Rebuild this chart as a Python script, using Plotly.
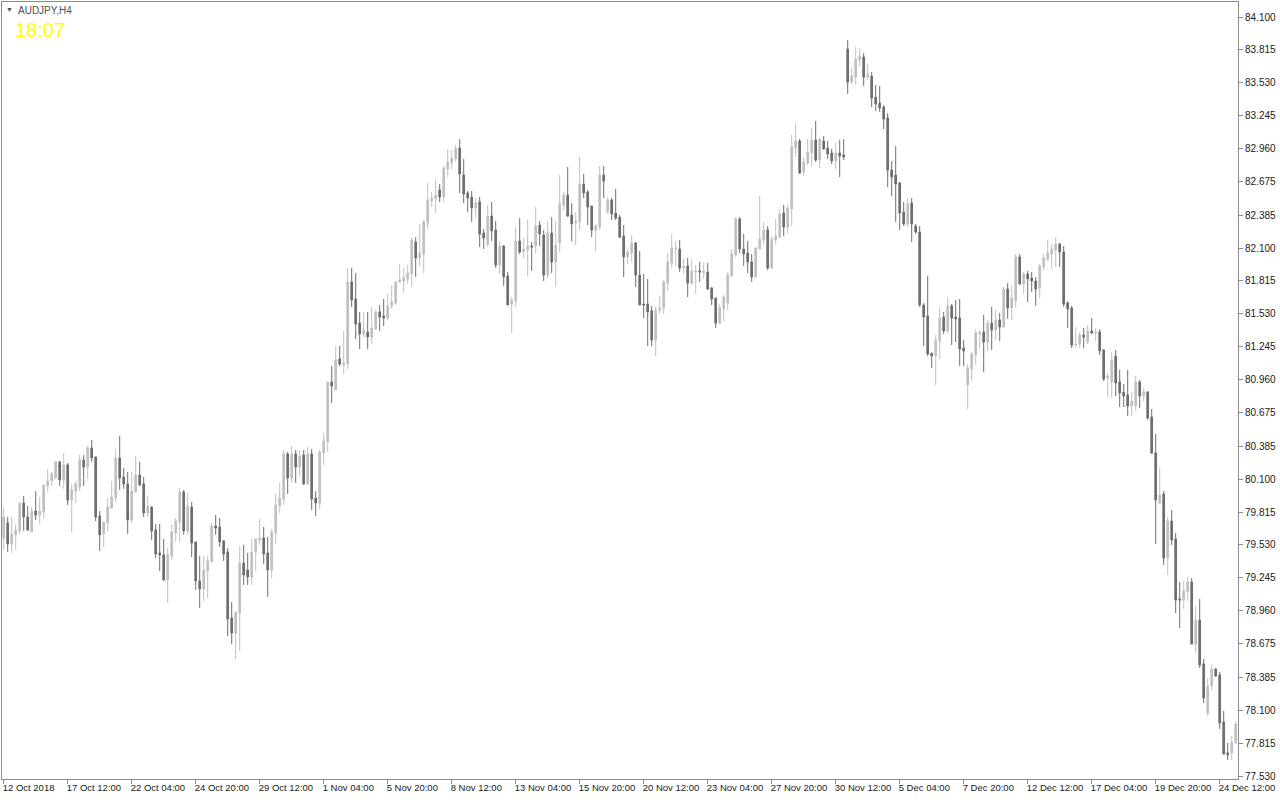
import plotly.graph_objects as go

symbol_title = "AUDJPY,H4"
clock_text = "18:07"

# time-axis labels, one every 16 H4 bars (bar index = position in the list * 16)
time_labels = ["12 Oct 2018", "17 Oct 12:00", "22 Oct 04:00", "24 Oct 20:00", "29 Oct 12:00",
               "1 Nov 04:00", "5 Nov 20:00", "8 Nov 12:00", "13 Nov 04:00", "15 Nov 20:00",
               "20 Nov 12:00", "23 Nov 04:00", "27 Nov 20:00", "30 Nov 12:00", "5 Dec 04:00",
               "7 Dec 20:00", "12 Dec 12:00", "17 Dec 04:00", "19 Dec 20:00", "24 Dec 12:00"]
label_every = 16

price_ticks = [77.530, 77.815, 78.100, 78.385, 78.675, 78.960, 79.245, 79.530, 79.815, 80.100,
               80.385, 80.675, 80.960, 81.245, 81.530, 81.815, 82.100, 82.385, 82.675, 82.960,
               83.245, 83.530, 83.815, 84.100]

open_ = [
    79.591, 79.720, 79.538, 79.617, 79.651, 79.893, 79.772, 79.643, 79.824, 79.789,
    79.815, 80.041, 80.084, 80.110, 80.249, 80.093, 80.223, 79.919, 79.997, 80.032,
    80.266, 80.205, 80.370, 80.292, 79.781, 79.625, 79.720, 79.850, 79.936, 80.283,
    80.119, 80.058, 79.746, 79.989, 80.136, 80.058, 79.807, 79.858, 79.660, 79.461,
    79.444, 79.227, 79.435, 79.634, 79.729, 79.989, 79.651, 79.858, 79.556, 79.218,
    79.149, 79.305, 79.383, 79.694, 79.686, 79.565, 79.470, 78.898, 78.768, 78.941,
    79.374, 79.314, 79.253, 79.470, 79.573, 79.591, 79.461, 79.314, 79.634, 79.867,
    79.928, 80.318, 80.110, 80.318, 80.205, 80.309, 80.058, 80.318, 79.936, 79.893,
    80.326, 80.422, 80.941, 80.872, 81.140, 81.088, 81.096, 81.807, 81.659, 81.451,
    81.356, 81.373, 81.330, 81.399, 81.547, 81.512, 81.495, 81.599, 81.624, 81.807,
    81.815, 81.833, 81.876, 82.152, 82.014, 82.049, 82.317, 82.507, 82.525, 82.603,
    82.542, 82.784, 82.836, 82.871, 82.966, 82.732, 82.577, 82.542, 82.447, 82.499,
    82.230, 82.135, 82.377, 82.256, 81.954, 82.118, 81.859, 81.616, 81.641, 82.161,
    82.066, 82.083, 82.118, 82.118, 82.299, 82.213, 81.867, 82.230, 81.980, 82.144,
    82.473, 82.559, 82.386, 82.317, 82.326, 82.654, 82.585, 82.464, 82.256, 82.282,
    82.732, 82.412, 82.516, 82.403, 82.369, 82.204, 82.023, 82.057, 82.144, 81.867,
    81.616, 81.616, 81.556, 81.304, 81.564, 81.581, 81.798, 81.971, 82.092, 82.092,
    81.928, 81.945, 81.798, 81.893, 81.902, 81.884, 81.893, 81.755, 81.668, 81.451,
    81.573, 81.624, 81.859, 82.040, 82.351, 82.092, 82.057, 81.980, 81.850, 82.092,
    82.170, 82.256, 81.928, 82.170, 82.195, 82.403, 82.282, 82.438, 82.966, 83.027,
    82.758, 82.836, 82.923, 83.035, 82.862, 83.027, 82.966, 82.923, 82.854, 82.923,
    82.906, 83.823, 83.537, 83.580, 83.728, 83.754, 83.580, 83.589, 83.407, 83.355,
    83.321, 83.226, 82.776, 82.732, 82.663, 82.412, 82.308, 82.490, 82.291, 82.239,
    81.607, 81.512, 81.191, 81.165, 81.295, 81.503, 81.382, 81.599, 81.503, 81.495,
    81.235, 80.915, 81.053, 81.174, 81.356, 81.373, 81.287, 81.451, 81.391, 81.477,
    81.417, 81.746, 81.581, 81.641, 82.023, 81.789, 81.876, 81.841, 81.815, 81.755,
    81.936, 82.005, 82.049, 82.083, 82.135, 82.066, 81.624, 81.581, 81.261, 81.269,
    81.347, 81.287, 81.382, 81.365, 81.373, 81.218, 80.975, 80.941, 81.165, 80.941,
    80.854, 80.828, 80.733, 80.733, 80.941, 80.819, 80.854, 80.638, 80.326, 79.893,
    79.971, 79.417, 79.737, 79.582, 79.062, 79.053, 79.123, 79.210, 78.672, 78.880,
    78.500, 78.075, 78.309, 78.456, 78.405, 77.998, 77.730, 77.730, 77.816,
]

high = [
    79.858, 79.772, 79.772, 79.711, 79.893, 79.954, 79.867, 79.858, 79.997, 79.945,
    80.050, 80.188, 80.162, 80.257, 80.257, 80.326, 80.240, 80.050, 80.084, 80.309,
    80.309, 80.387, 80.439, 80.292, 79.824, 79.729, 79.936, 80.084, 80.361, 80.473,
    80.197, 80.162, 80.162, 80.300, 80.249, 80.119, 79.954, 79.867, 79.711, 79.711,
    79.582, 79.504, 79.711, 79.763, 80.024, 80.006, 79.980, 79.902, 79.556, 79.435,
    79.435, 79.435, 79.720, 79.789, 79.763, 79.573, 79.504, 79.036, 78.950, 79.521,
    79.530, 79.461, 79.582, 79.582, 79.755, 79.686, 79.599, 79.668, 79.971, 80.067,
    80.352, 80.335, 80.387, 80.352, 80.352, 80.352, 80.378, 80.361, 79.997, 80.352,
    80.499, 80.941, 81.079, 81.252, 81.252, 81.382, 81.928, 81.928, 81.884, 81.547,
    81.547, 81.547, 81.590, 81.564, 81.607, 81.659, 81.702, 81.780, 81.815, 81.962,
    81.928, 81.954, 82.195, 82.195, 82.308, 82.343, 82.663, 82.585, 82.689, 82.654,
    82.810, 82.957, 82.949, 82.992, 83.044, 82.871, 82.594, 82.594, 82.533, 82.542,
    82.265, 82.473, 82.499, 82.334, 82.161, 82.126, 81.893, 81.676, 82.282, 82.360,
    82.187, 82.343, 82.152, 82.455, 82.334, 82.256, 82.326, 82.369, 82.334, 82.732,
    82.585, 82.801, 82.490, 82.412, 82.888, 82.741, 82.603, 82.464, 82.308, 82.810,
    82.810, 82.542, 82.533, 82.611, 82.386, 82.300, 82.092, 82.213, 82.152, 82.074,
    81.876, 81.833, 81.599, 81.590, 81.685, 81.824, 82.057, 82.222, 82.161, 82.170,
    82.014, 82.014, 81.997, 81.954, 81.980, 81.971, 81.971, 81.763, 81.668, 81.616,
    81.694, 81.893, 82.092, 82.369, 82.369, 82.222, 82.161, 82.049, 82.109, 82.551,
    82.326, 82.291, 82.204, 82.351, 82.429, 82.473, 82.473, 83.079, 83.174, 83.044,
    82.888, 83.044, 83.139, 83.200, 83.053, 83.070, 83.027, 82.958, 83.010, 83.035,
    83.044, 83.901, 83.667, 83.840, 83.832, 83.788, 83.693, 83.624, 83.511, 83.503,
    83.338, 83.269, 82.854, 82.983, 82.672, 82.499, 82.533, 82.533, 82.308, 82.291,
    81.624, 81.859, 81.191, 81.347, 81.581, 81.547, 81.676, 81.616, 81.650, 81.659,
    81.304, 81.096, 81.200, 81.399, 81.391, 81.521, 81.477, 81.590, 81.564, 81.538,
    81.763, 81.798, 81.772, 82.049, 82.049, 81.893, 81.902, 81.893, 81.850, 81.962,
    82.049, 82.170, 82.135, 82.195, 82.144, 82.118, 81.641, 81.599, 81.417, 81.373,
    81.408, 81.434, 81.495, 81.408, 81.399, 81.226, 81.019, 81.200, 81.218, 81.045,
    80.923, 81.045, 80.854, 80.993, 80.958, 80.889, 80.863, 80.707, 80.490, 80.197,
    79.997, 79.772, 79.833, 79.634, 79.210, 79.218, 79.253, 79.244, 79.001, 79.062,
    78.543, 78.378, 78.491, 78.465, 78.430, 78.093, 77.816, 77.877, 78.006,
]

low = [
    79.487, 79.470, 79.461, 79.487, 79.625, 79.651, 79.651, 79.643, 79.746, 79.711,
    79.763, 79.989, 80.041, 80.101, 80.041, 80.015, 79.876, 79.643, 79.893, 79.997,
    80.041, 80.101, 80.249, 79.737, 79.478, 79.513, 79.643, 79.841, 79.902, 80.006,
    80.015, 79.625, 79.720, 79.980, 80.041, 79.772, 79.772, 79.573, 79.417, 79.305,
    79.218, 79.027, 79.400, 79.556, 79.556, 79.617, 79.617, 79.426, 79.141, 78.984,
    79.045, 79.071, 79.383, 79.617, 79.513, 79.392, 78.742, 78.672, 78.543, 78.612,
    79.184, 79.184, 79.184, 79.305, 79.530, 79.365, 79.080, 79.244, 79.538, 79.807,
    79.876, 79.971, 80.067, 80.067, 80.127, 80.050, 80.050, 79.833, 79.781, 79.841,
    80.223, 80.335, 80.759, 80.872, 81.079, 81.010, 81.053, 81.590, 81.313, 81.226,
    81.321, 81.226, 81.269, 81.391, 81.382, 81.425, 81.477, 81.573, 81.607, 81.798,
    81.711, 81.789, 81.763, 81.850, 81.945, 81.884, 82.265, 82.455, 82.403, 82.499,
    82.499, 82.715, 82.784, 82.845, 82.577, 82.490, 82.412, 82.326, 82.360, 82.109,
    82.092, 82.109, 82.161, 81.928, 81.876, 81.772, 81.607, 81.365, 81.590, 82.049,
    82.014, 81.859, 81.902, 82.049, 82.118, 81.815, 81.841, 81.884, 81.763, 82.066,
    82.429, 82.369, 82.161, 82.126, 82.256, 82.533, 82.300, 82.195, 82.074, 82.256,
    82.533, 82.395, 82.343, 82.343, 82.187, 81.850, 81.962, 81.980, 81.763, 81.607,
    81.495, 81.252, 81.252, 81.165, 81.529, 81.529, 81.728, 81.928, 81.945, 81.893,
    81.876, 81.676, 81.780, 81.702, 81.807, 81.833, 81.737, 81.607, 81.408, 81.443,
    81.469, 81.564, 81.850, 82.023, 82.057, 81.945, 81.884, 81.807, 81.841, 82.092,
    82.126, 81.910, 81.919, 82.126, 82.187, 82.204, 82.230, 82.291, 82.888, 82.741,
    82.723, 82.819, 82.810, 82.845, 82.793, 82.949, 82.871, 82.828, 82.784, 82.715,
    82.862, 83.433, 83.520, 83.511, 83.676, 83.503, 83.555, 83.321, 83.286, 83.278,
    83.130, 82.628, 82.551, 82.326, 82.256, 82.291, 82.282, 82.152, 82.222, 81.590,
    81.252, 81.165, 81.062, 80.915, 81.140, 81.356, 81.356, 81.261, 81.287, 81.079,
    81.079, 80.707, 80.949, 81.088, 81.235, 81.027, 81.209, 81.218, 81.304, 81.295,
    81.408, 81.486, 81.477, 81.581, 81.780, 81.702, 81.633, 81.720, 81.599, 81.668,
    81.910, 81.988, 81.919, 81.936, 81.936, 81.590, 81.408, 81.235, 81.235, 81.235,
    81.235, 81.269, 81.356, 81.295, 81.174, 80.949, 80.811, 80.802, 80.819, 80.724,
    80.724, 80.646, 80.646, 80.690, 80.716, 80.776, 80.612, 80.318, 79.538, 79.884,
    79.357, 79.270, 79.530, 78.941, 78.811, 78.976, 79.045, 78.672, 78.595, 78.465,
    78.162, 78.049, 78.275, 78.387, 77.937, 77.720, 77.669, 77.669, 77.807,
]

close = [
    79.772, 79.538, 79.625, 79.660, 79.893, 79.772, 79.660, 79.824, 79.789, 79.824,
    80.050, 80.084, 80.145, 80.249, 80.093, 80.223, 79.919, 80.006, 80.058, 80.266,
    80.205, 80.370, 80.283, 79.772, 79.617, 79.729, 79.858, 79.945, 80.283, 80.110,
    80.058, 79.746, 79.997, 80.136, 80.050, 79.807, 79.867, 79.651, 79.452, 79.444,
    79.227, 79.444, 79.643, 79.737, 79.989, 79.651, 79.867, 79.547, 79.218, 79.149,
    79.314, 79.392, 79.694, 79.677, 79.556, 79.452, 78.889, 78.768, 78.950, 79.374,
    79.270, 79.253, 79.470, 79.582, 79.591, 79.452, 79.314, 79.643, 79.876, 79.936,
    80.318, 80.110, 80.318, 80.205, 80.300, 80.058, 80.318, 79.928, 79.893, 80.335,
    80.430, 80.941, 80.906, 81.131, 81.096, 81.105, 81.807, 81.650, 81.443, 81.356,
    81.391, 81.330, 81.408, 81.547, 81.503, 81.495, 81.599, 81.633, 81.807, 81.824,
    81.841, 81.884, 82.170, 82.014, 82.057, 82.326, 82.516, 82.533, 82.559, 82.542,
    82.793, 82.845, 82.879, 82.966, 82.741, 82.568, 82.533, 82.447, 82.490, 82.222,
    82.187, 82.377, 82.248, 81.954, 82.118, 81.850, 81.607, 81.650, 82.161, 82.066,
    82.092, 82.118, 82.109, 82.291, 82.222, 81.867, 82.230, 81.980, 82.126, 82.481,
    82.559, 82.377, 82.308, 82.334, 82.654, 82.577, 82.455, 82.256, 82.291, 82.732,
    82.680, 82.516, 82.395, 82.360, 82.195, 82.023, 82.066, 82.144, 81.867, 81.607,
    81.607, 81.547, 81.304, 81.564, 81.581, 81.807, 81.980, 82.101, 82.101, 81.928,
    81.945, 81.798, 81.902, 81.902, 81.893, 81.902, 81.746, 81.659, 81.451, 81.581,
    81.676, 81.867, 82.049, 82.351, 82.092, 82.049, 81.980, 81.850, 82.101, 82.178,
    82.256, 81.928, 82.178, 82.204, 82.395, 82.282, 82.447, 82.975, 83.027, 82.749,
    82.845, 82.932, 83.035, 82.862, 83.044, 82.958, 82.914, 82.854, 82.923, 82.897,
    82.888, 83.537, 83.589, 83.736, 83.762, 83.580, 83.606, 83.399, 83.347, 83.312,
    83.217, 82.776, 82.715, 82.654, 82.403, 82.308, 82.481, 82.308, 82.239, 81.607,
    81.503, 81.183, 81.165, 81.304, 81.495, 81.382, 81.599, 81.495, 81.486, 81.226,
    81.209, 81.062, 81.183, 81.365, 81.373, 81.287, 81.451, 81.391, 81.477, 81.417,
    81.746, 81.581, 81.668, 82.023, 81.789, 81.876, 81.833, 81.815, 81.746, 81.945,
    82.014, 82.057, 82.092, 82.135, 82.066, 81.616, 81.573, 81.261, 81.269, 81.347,
    81.330, 81.382, 81.365, 81.373, 81.209, 80.967, 80.993, 81.131, 80.932, 80.845,
    80.819, 80.733, 80.776, 80.941, 80.819, 80.854, 80.629, 80.326, 79.919, 79.963,
    79.417, 79.737, 79.573, 79.053, 79.053, 79.132, 79.210, 78.672, 78.880, 78.491,
    78.205, 78.309, 78.456, 78.396, 77.989, 77.720, 77.712, 77.825, 77.980,
]

bars = list(range(len(open_)))

BULL = "#c0c0c0"
BEAR = "#6e6e6e"
AXIS = "#8c8c8c"
TEXT = "#202020"

fig = go.Figure(go.Candlestick(
    x=bars, open=open_, high=high, low=low, close=close,
    increasing=dict(line=dict(color=BULL, width=1), fillcolor=BULL),
    decreasing=dict(line=dict(color=BEAR, width=1), fillcolor=BEAR),
    whiskerwidth=0, showlegend=False,
))

fig.update_layout(
    width=1280, height=800,
    margin=dict(l=2, r=42, t=2, b=21, pad=0),
    paper_bgcolor="white", plot_bgcolor="white",
    boxgap=0.4,
    font=dict(family="Liberation Sans, Arial, sans-serif", size=10, color=TEXT),
    showlegend=False,
    xaxis=dict(
        range=[-0.425, len(bars) - 0.425],
        rangeslider=dict(visible=False),
        tickvals=[k * label_every for k in range(len(time_labels))],
        ticktext=time_labels,
        tickangle=0,
        ticks="outside", ticklen=4, tickcolor=AXIS,
        ticklabelposition="outside right",
        ticklabeloverflow="allow",
        ticklabelshift=-2,
        showgrid=False, zeroline=False,
        showline=True, linecolor=AXIS, linewidth=1, mirror=True,
        tickfont=dict(size=9.5, color=TEXT),
    ),
    yaxis=dict(
        side="right",
        range=[77.504, 84.230],
        tickvals=price_ticks,
        ticktext=[f"{v:.3f}" for v in price_ticks],
        ticks="outside", ticklen=4, tickcolor=AXIS,
        showgrid=False, zeroline=False,
        showline=True, linecolor=AXIS, linewidth=1, mirror=True,
        tickfont=dict(size=10, color=TEXT),
    ),
    annotations=[
        dict(text="\u25bc", xref="paper", yref="paper", x=0.0015, y=0.990,
             xanchor="left", yanchor="middle", showarrow=False,
             font=dict(size=7, color="#505050")),
        dict(text=symbol_title, xref="paper", yref="paper", x=0.0115, y=0.9895,
             xanchor="left", yanchor="middle", showarrow=False,
             font=dict(size=10, color="#505050")),
        dict(text=clock_text, xref="paper", yref="paper", x=0.0085, y=0.964,
             xanchor="left", yanchor="middle", showarrow=False,
             font=dict(size=20, color="#ffff00")),
    ],
)

fig.write_html("out.html", config={"displayModeBar": False},
               post_script="document.body.style.margin='0';")
